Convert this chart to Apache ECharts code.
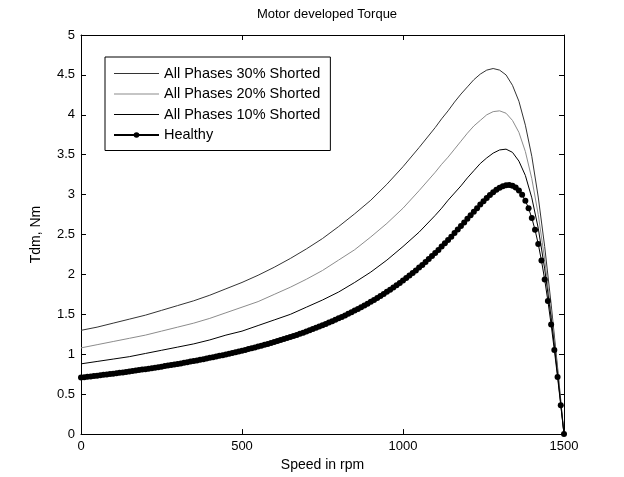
<!DOCTYPE html>
<html>
<head>
<meta charset="utf-8">
<script src="https://cdn.jsdelivr.net/npm/echarts@6/dist/echarts.min.js"></script>
<style>html,body{margin:0;padding:0;background:#fff}#c{width:624px;height:477px}</style>
</head>
<body>
<div id="c"></div>
<script>
const titleText = 'Motor developed Torque';
const xName = 'Speed in rpm';
const yName = 'Tdm, Nm';
const seriesNames = ['All Phases 30% Shorted', 'All Phases 20% Shorted', 'All Phases 10% Shorted', 'Healthy'];

const speedLines = [0,50,100,150,200,250,300,350,400,450,500,550,600,650,700,750,800,850,900,950,1000,1050,1100,
  1120,1140,1160,1180,1200,1220,1240,1260,1280,1300,1320,1340,1360,1380,1400,1420,1440,1460,1480,1500];
const torque30 = [1.30,1.34,1.39,1.44,1.49,1.55,1.61,1.67,1.74,1.82,1.90,1.99,2.09,2.20,2.32,2.45,2.60,2.76,2.93,3.13,3.35,3.59,3.84,
  3.95,4.05,4.16,4.26,4.35,4.44,4.51,4.56,4.58,4.56,4.50,4.37,4.17,3.87,3.48,2.97,2.35,1.63,0.84,0];
const torque20 = [1.08,1.12,1.16,1.20,1.24,1.29,1.34,1.39,1.45,1.52,1.59,1.66,1.75,1.84,1.94,2.05,2.18,2.31,2.47,2.64,2.83,3.05,3.28,
  3.38,3.47,3.57,3.67,3.77,3.86,3.93,4.00,4.04,4.05,4.02,3.93,3.78,3.54,3.20,2.75,2.19,1.53,0.79,0];
const torque10 = [0.88,0.91,0.94,0.97,1.01,1.05,1.09,1.13,1.18,1.24,1.29,1.36,1.43,1.50,1.59,1.68,1.78,1.90,2.03,2.18,2.35,2.53,2.74,
  2.83,2.93,3.02,3.11,3.21,3.30,3.39,3.46,3.52,3.56,3.57,3.53,3.42,3.24,2.96,2.58,2.07,1.46,0.75,0];

const speedHealthy = [0,10,20,30,40,50,60,70,80,90,100,110,120,130,140,150,160,170,180,190,200,210,220,230,240,250,260,270,280,290,
  300,310,320,330,340,350,360,370,380,390,400,410,420,430,440,450,460,470,480,490,500,510,520,530,540,550,560,570,580,590,
  600,610,620,630,640,650,660,670,680,690,700,710,720,730,740,750,760,770,780,790,800,810,820,830,840,850,860,870,880,890,
  900,910,920,930,940,950,960,970,980,990,1000,1010,1020,1030,1040,1050,1060,1070,1080,1090,1100,1110,1120,1130,1140,1150,
  1160,1170,1180,1190,1200,1210,1220,1230,1240,1250,1260,1270,1280,1290,1300,1310,1320,1330,1340,1350,1360,1370,1380,1390,
  1400,1410,1420,1430,1440,1450,1460,1470,1480,1490,1500];
const torqueHealthy = [0.708,0.713,0.718,0.722,0.727,0.732,0.737,0.742,0.747,0.752,0.757,0.763,0.768,0.773,0.779,0.785,0.790,0.796,0.802,0.808,
  0.814,0.820,0.826,0.832,0.839,0.845,0.852,0.858,0.865,0.872,0.879,0.886,0.893,0.900,0.908,0.915,0.923,0.931,0.939,0.947,
  0.955,0.963,0.972,0.981,0.989,0.998,1.007,1.017,1.026,1.036,1.045,1.055,1.065,1.076,1.086,1.097,1.108,1.119,1.130,1.142,
  1.154,1.166,1.178,1.190,1.203,1.216,1.230,1.243,1.257,1.271,1.286,1.301,1.316,1.331,1.347,1.363,1.380,1.397,1.414,1.432,
  1.450,1.468,1.487,1.507,1.527,1.547,1.568,1.589,1.611,1.634,1.657,1.681,1.705,1.730,1.756,1.782,1.809,1.836,1.865,1.894,
  1.924,1.955,1.986,2.018,2.051,2.086,2.120,2.156,2.193,2.231,2.269,2.308,2.349,2.390,2.432,2.474,2.518,2.562,2.606,2.651,
  2.697,2.742,2.787,2.831,2.875,2.917,2.957,2.995,3.030,3.061,3.086,3.106,3.117,3.120,3.111,3.090,3.053,2.999,2.925,2.829,
  2.708,2.559,2.382,2.174,1.936,1.668,1.373,1.053,0.714,0.361,0];

const xTicks = [0, 1500, 500];
const yTicks = [0, 5, 0.5];

function pairs(xs, ys) { return xs.map((x, i) => [x, ys[i]]); }

const FONT = 'Liberation Sans, Arial, sans-serif';
const chart = echarts.init(document.getElementById('c'), null, {renderer: 'canvas'});

const axisCommon = {
  type: 'value',
  axisLine: {show: true, onZero: false, lineStyle: {color: '#000', width: 1}},
  axisTick: {show: true, inside: true, length: 5, lineStyle: {color: '#000', width: 1}},
  splitLine: {show: false},
};
const lineIcon = 'path://M0,0L45,0L45,1.2L0,1.2Z';

chart.setOption({
  animation: false,
  backgroundColor: '#fff',
  title: {
    text: titleText, left: 322, top: 3, textAlign: 'center',
    textStyle: {fontFamily: FONT, fontSize: 13, fontWeight: 'normal', color: '#000'}
  },
  grid: {left: 81, right: 60, top: 35, bottom: 41, containLabel: false},
  legend: {
    data: [
      {name: seriesNames[0], icon: lineIcon},
      {name: seriesNames[1], icon: lineIcon},
      {name: seriesNames[2], icon: lineIcon},
      {name: seriesNames[3]}
    ],
    orient: 'vertical', left: 105, top: 57,
    itemWidth: 45, itemHeight: 7, itemGap: 5.5, symbolKeepAspect: true,
    padding: [9, 10, 8, 8],
    borderColor: '#000', borderWidth: 1, backgroundColor: '#fff',
    textStyle: {fontFamily: FONT, fontSize: 14.5, color: '#000'}
  },
  xAxis: [
    Object.assign({}, axisCommon, {
      position: 'bottom', min: xTicks[0], max: xTicks[1], interval: xTicks[2],
      name: xName, nameLocation: 'middle', nameGap: 23,
      nameTextStyle: {fontFamily: FONT, fontSize: 14, color: '#000'},
      axisLabel: {show: true, margin: 6, fontFamily: FONT, fontSize: 13, color: '#000', formatter: v => String(v)}
    }),
    Object.assign({}, axisCommon, {
      position: 'top', min: xTicks[0], max: xTicks[1], interval: xTicks[2],
      axisLabel: {show: false}
    })
  ],
  yAxis: [
    Object.assign({}, axisCommon, {
      position: 'left', min: yTicks[0], max: yTicks[1], interval: yTicks[2],
      name: yName, nameLocation: 'middle', nameGap: 38,
      nameTextStyle: {fontFamily: FONT, fontSize: 14, color: '#000'},
      axisLabel: {show: true, margin: 6, fontFamily: FONT, fontSize: 13, color: '#000', formatter: v => String(v)}
    }),
    Object.assign({}, axisCommon, {
      position: 'right', min: yTicks[0], max: yTicks[1], interval: yTicks[2],
      axisLabel: {show: false}
    })
  ],
  series: [
    {name: seriesNames[0], type: 'line', data: pairs(speedLines, torque30), symbol: 'none',
     lineStyle: {color: '#333', width: 1}, itemStyle: {color: '#333'}},
    {name: seriesNames[1], type: 'line', data: pairs(speedLines, torque20), symbol: 'none',
     lineStyle: {color: '#8c8c8c', width: 1}, itemStyle: {color: '#8c8c8c'}},
    {name: seriesNames[2], type: 'line', data: pairs(speedLines, torque10), symbol: 'none',
     lineStyle: {color: '#000', width: 1}, itemStyle: {color: '#000'}},
    {name: seriesNames[3], type: 'line', data: pairs(speedHealthy, torqueHealthy), symbol: 'circle', symbolSize: 6,
     showSymbol: true, showAllSymbol: true,
     lineStyle: {color: '#000', width: 1}, itemStyle: {color: '#000', borderWidth: 0}}
  ]
});
</script>
</body>
</html>
